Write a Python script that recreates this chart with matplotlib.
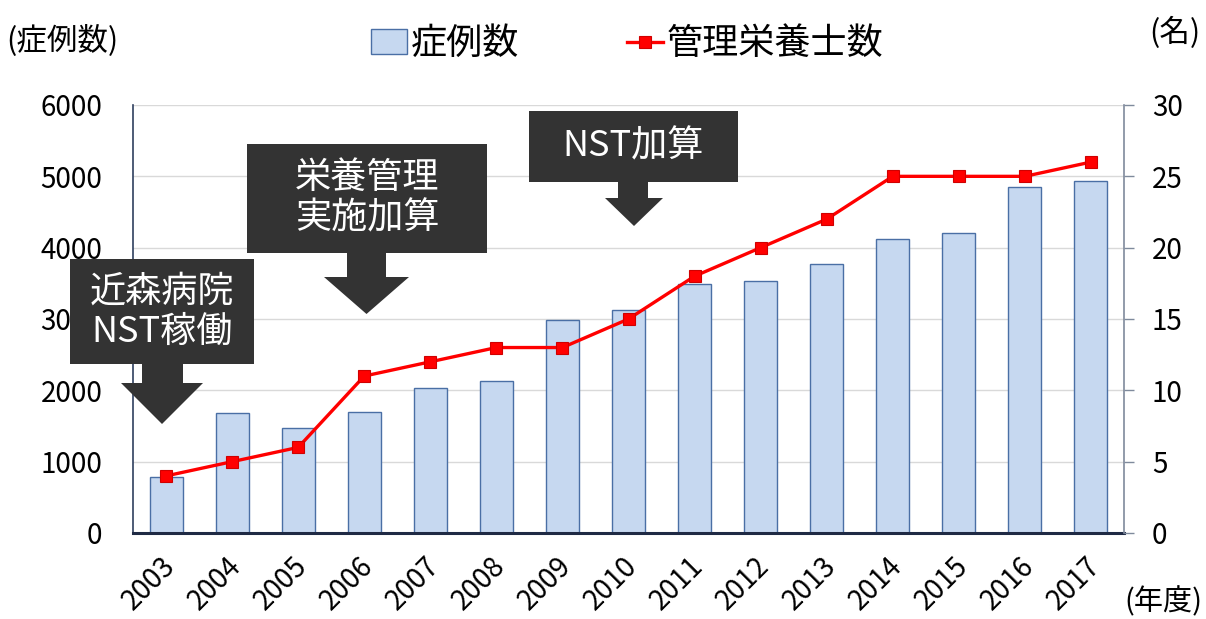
import matplotlib
matplotlib.use("Agg")
import matplotlib.pyplot as plt
from matplotlib.patches import Rectangle, Polygon
from matplotlib.transforms import ScaledTranslation
import numpy as np

plt.rcParams['font.family'] = ['Noto Sans CJK JP', 'DejaVu Sans']

years = ['2003', '2004', '2005', '2006', '2007', '2008', '2009', '2010',
         '2011', '2012', '2013', '2014', '2015', '2016', '2017']
cases = [790, 1680, 1470, 1700, 2030, 2130, 2990, 3130,
         3490, 3530, 3770, 4120, 4210, 4850, 4940]
dietitians = [4, 5, 6, 11, 12, 13, 13, 15, 18, 20, 22, 25, 25, 25, 26]

left_ticks = [0, 1000, 2000, 3000, 4000, 5000, 6000]
right_ticks = [0, 5, 10, 15, 20, 25, 30]

bar_label = '症例数'
line_label = '管理栄養士数'
left_unit = '(症例数)'
right_unit = '(名)'
x_unit = '(年度)'

# annotations: (text, box [x0,y0,x1,y1] px, shaft [x0,x1,y1], head [x0,x1,tip_y])
notes = [
    ('近森病院\nNST稼働', (70, 259, 254, 364), (142, 183, 383), (121, 203, 424)),
    ('栄養管理\n実施加算', (247, 144, 487, 253), (347, 386, 277), (324, 409, 314)),
    ('NST加算', (529, 111, 738, 182), (618, 648, 198), (605, 663, 226)),
]

W, H = 1206, 619
fig = plt.figure(figsize=(W / 100, H / 100), dpi=100)
ax = fig.add_axes([133 / W, 1 - 533 / H, (1124 - 133) / W, (533 - 105) / H])

x = np.arange(len(years))
bars = ax.bar(x, cases, width=0.5, color='#c6d8f0', edgecolor='#4a6fa5',
              linewidth=1.0, zorder=2, label=bar_label)
ax.set_xlim(-0.5, len(years) - 0.5)
ax.set_ylim(0, 6000)
ax.set_yticks(left_ticks)
ax.set_yticklabels([str(v) for v in left_ticks], fontsize=20)
ax.tick_params(axis='y', length=0, pad=22)
ax.grid(axis='y', color='#d9d9d9', linewidth=1.0, zorder=0)
ax.set_axisbelow(True)
ax.set_xticks(x)
ax.set_xticklabels(years, fontsize=20, rotation=45, ha='right',
                   rotation_mode='anchor')
ax.tick_params(axis='x', length=0, pad=13)
shift = ScaledTranslation(-6 / 100, 0, fig.dpi_scale_trans)
for lbl in ax.get_xticklabels():
    lbl.set_transform(lbl.get_transform() + shift)
for s in ['top', 'right']:
    ax.spines[s].set_visible(False)
ax.spines['left'].set_color('#2f3f5f')
ax.spines['left'].set_linewidth(1.2)
ax.spines['bottom'].set_color('#1f2a44')
ax.spines['bottom'].set_linewidth(2.2)

ax2 = ax.twinx()
line, = ax2.plot(x, dietitians, color='#ff0000', linewidth=2.4, marker='s',
                 markersize=8, markerfacecolor='#ff0000',
                 markeredgecolor='#d00000', markeredgewidth=0.8,
                 label=line_label, zorder=3)
ax2.set_ylim(0, 30)
ax2.set_yticks(right_ticks)
ax2.set_yticklabels([str(v) for v in right_ticks], fontsize=20)
ax2.tick_params(axis='y', direction='out', length=7, width=1.0,
                color='#7f8a9c', pad=13)
for s in ['top', 'left', 'bottom']:
    ax2.spines[s].set_visible(False)
ax2.spines['right'].set_color('#7f8a9c')
ax2.spines['right'].set_linewidth(1.2)

fig.legend(handles=[bars, line], labels=[bar_label, line_label],
           loc='upper center', bbox_to_anchor=(0.52, 1.01), ncol=2,
           frameon=False, fontsize=26, handlelength=1.0, handleheight=0.7,
           handletextpad=0.1, columnspacing=3.0)

fig.text(6 / W, 1 - 40 / H, left_unit, fontsize=22, va='center', ha='left')
fig.text(1200 / W, 1 - 33 / H, right_unit, fontsize=22, va='center', ha='right')
fig.text(1202 / W, 1 - 602 / H, x_unit, fontsize=21, va='center', ha='right')

ov = fig.add_axes([0, 0, 1, 1], zorder=10)
ov.set_xlim(0, W)
ov.set_ylim(H, 0)
ov.axis('off')
ov.patch.set_alpha(0)
box_color = '#333333'
for text, (bx0, by0, bx1, by1), (sx0, sx1, sy1), (hx0, hx1, ty) in notes:
    ov.add_patch(Rectangle((bx0, by0), bx1 - bx0, by1 - by0,
                           facecolor=box_color, edgecolor='none'))
    cx = (hx0 + hx1) / 2
    ov.add_patch(Polygon([(sx0, by1 - 1), (sx1, by1 - 1), (sx1, sy1),
                          (hx1, sy1), (cx, ty), (hx0, sy1), (sx0, sy1)],
                         closed=True, facecolor=box_color, edgecolor='none'))
    ov.text((bx0 + bx1) / 2, (by0 + by1) / 2, text, color='white',
            fontsize=26, ha='center', va='center', linespacing=1.15)

fig.savefig('out.png', dpi=100)
